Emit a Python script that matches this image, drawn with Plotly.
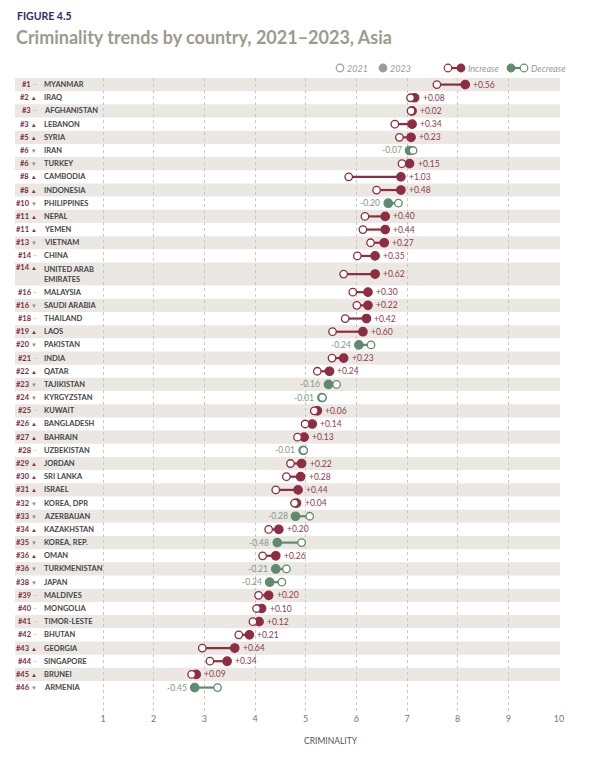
import plotly.graph_objects as go

# ---------------- data ----------------
countries = [
    "MYANMAR", "IRAQ", "AFGHANISTAN", "LEBANON", "SYRIA", "IRAN", "TURKEY",
    "CAMBODIA", "INDONESIA", "PHILIPPINES", "NEPAL", "YEMEN", "VIETNAM", "CHINA",
    "UNITED ARAB<br>EMIRATES", "MALAYSIA", "SAUDI ARABIA", "THAILAND", "LAOS",
    "PAKISTAN", "INDIA", "QATAR", "TAJIKISTAN", "KYRGYZSTAN", "KUWAIT",
    "BANGLADESH", "BAHRAIN", "UZBEKISTAN", "JORDAN", "SRI LANKA", "ISRAEL",
    "KOREA, DPR", "AZERBAIJAN", "KAZAKHSTAN", "KOREA, REP.", "OMAN",
    "TURKMENISTAN", "JAPAN", "MALDIVES", "MONGOLIA", "TIMOR-LESTE", "BHUTAN",
    "GEORGIA", "SINGAPORE", "BRUNEI", "ARMENIA",
]
ranks = [1, 2, 3, 3, 5, 6, 6, 8, 8, 10, 11, 11, 13, 14, 14, 16, 16, 18, 19, 20,
         21, 22, 23, 24, 25, 26, 27, 28, 29, 30, 31, 32, 33, 34, 35, 36, 36, 38,
         39, 40, 41, 42, 43, 44, 45, 46]
rank_moves = ["=", "up", "=", "up", "up", "down", "down", "up", "up", "down",
              "up", "up", "down", "=", "up", "=", "down", "=", "up", "down",
              "=", "up", "down", "down", "=", "up", "up", "=", "up", "up",
              "up", "down", "down", "up", "down", "up", "down", "down", "=", "=",
              "=", "=", "up", "=", "up", "down"]
crim_2021 = [7.59, 7.07, 7.08, 6.76, 6.85, 7.12, 6.90, 5.85, 6.40, 6.83,
             6.17, 6.13, 6.28, 6.02, 5.75, 5.93, 6.01, 5.78, 5.53, 6.29,
             5.52, 5.23, 5.61, 5.33, 5.17, 4.99, 4.84, 4.96, 4.70, 4.62,
             4.41, 4.78, 5.08, 4.27, 4.92, 4.15, 4.62, 4.53, 4.07, 4.03,
             3.96, 3.68, 2.96, 3.11, 2.75, 3.26]
crim_2023 = [8.15, 7.15, 7.10, 7.10, 7.08, 7.05, 7.05, 6.88, 6.88, 6.63,
             6.57, 6.57, 6.55, 6.37, 6.37, 6.23, 6.23, 6.20, 6.13, 6.05,
             5.75, 5.47, 5.45, 5.32, 5.23, 5.13, 4.97, 4.95, 4.92, 4.90,
             4.85, 4.82, 4.80, 4.47, 4.44, 4.41, 4.41, 4.29, 4.27, 4.13,
             4.08, 3.89, 3.60, 3.45, 2.84, 2.81]
x_ticks = [1, 2, 3, 4, 5, 6, 7, 8, 9, 10]

# ---------------- style / layout ----------------
PAGE_W, PAGE_H = 600, 778
OFF = 8                      # default body margin of the html page
W, H = PAGE_W - 2 * OFF, PAGE_H - 2 * OFF
# plot area in page pixels: x 15..560, y 78..712
ML, MT = 15 - OFF, 78 - OFF
MR = W - (560 - OFF)
MB = H - (712 - OFF)
PW, PH = W - ML - MR, H - MT - MB
PX_PER_UNIT = 50.67
PX_PER_ROW = 13.18
X0 = 1 - (103 - 15) / PX_PER_UNIT
X1 = 10 + (560 - 559) / PX_PER_UNIT
Y_MAX = PH / PX_PER_ROW

INC = "#8e2c41"
DEC = "#5e8b6c"
INC_TXT = "#8e3a4c"
DEC_TXT = "#7e9a88"
BAND = "#ebe8e3"
FONT = "Lato"


def px_x(px):  # page pixel -> paper
    return (px - OFF - ML) / PW


def px_y(py):
    return (H - MB - (py - OFF)) / PH


row_h = [1.75 if "<br>" in c else 1.0 for c in countries]
tops, acc = [], 0.0
for h in row_h:
    tops.append(acc)
    acc += h
centers = [t + h / 2 for t, h in zip(tops, row_h)]

fig = go.Figure()

# connecting segments
for sign, col in ((1, INC), (-1, DEC)):
    xs, ys = [], []
    for a, b, y in zip(crim_2021, crim_2023, centers):
        if (b - a) * sign > 0:
            xs += [a, b, None]
            ys += [y, y, None]
    fig.add_trace(go.Scatter(x=xs, y=ys, mode="lines",
                             line=dict(color=col, width=2.2),
                             hoverinfo="skip", showlegend=False))

cols = [INC if b >= a else DEC for a, b in zip(crim_2021, crim_2023)]
fig.add_trace(go.Scatter(x=crim_2023, y=centers, mode="markers",
                         marker=dict(size=8.5, color=cols,
                                     line=dict(color=cols, width=1.2)),
                         showlegend=False, hoverinfo="x"))
fig.add_trace(go.Scatter(x=crim_2021, y=centers, mode="markers",
                         marker=dict(size=7.5, color="white",
                                     line=dict(color=cols, width=1.3)),
                         showlegend=False, hoverinfo="x"))

shapes = []
annotations = []
for i, (t, h) in enumerate(zip(tops, row_h)):
    if i % 2 == 0:
        shapes.append(dict(type="rect", xref="paper", x0=0, x1=1, yref="y",
                           y0=t, y1=t + h, fillcolor=BAND, line=dict(width=0),
                           layer="below"))

arrow_map = {
    "up": "<span style='color:%s;font-size:6px'>▲</span>" % INC,
    "down": "<span style='color:#8a8f98;font-size:6px'>▼</span>",
    "=": "<span style='color:#b5b5b5'>–</span>",
}
for c, r, mv, a, b, y, h in zip(countries, ranks, rank_moves, crim_2021,
                                crim_2023, centers, row_h):
    two = "<br>" in c
    yshift = 6.3 if two else 0
    annotations.append(dict(
        xref="paper", x=px_x(39), yref="y", y=y, yshift=yshift,
        xanchor="right", yanchor="middle", showarrow=False,
        text="<b>#%d</b> %s" % (r, arrow_map[mv]),
        font=dict(family=FONT, size=7.5, color="#7b2d3f")))
    annotations.append(dict(
        xref="paper", x=px_x(42), yref="y", y=y, xanchor="left",
        yanchor="middle", align="left", showarrow=False,
        text="<b>%s</b>" % c,
        font=dict(family=FONT, size=7.5, color="#454545")))
    d = round(b - a, 2)
    lab = "%+.2f" % d
    if d >= 0:
        annotations.append(dict(
            xref="x", x=max(a, b), yref="y", y=y, xanchor="left",
            yanchor="middle", xshift=6, showarrow=False, text=lab,
            font=dict(family=FONT, size=8.5, color=INC_TXT)))
    else:
        annotations.append(dict(
            xref="x", x=min(a, b), yref="y", y=y, xanchor="right",
            yanchor="middle", xshift=-6, showarrow=False, text=lab,
            font=dict(family=FONT, size=8.5, color=DEC_TXT)))

# header
annotations.append(dict(xref="paper", yref="paper", x=px_x(15), y=px_y(16),
                        xanchor="left", yanchor="middle", showarrow=False,
                        text="<b>FIGURE 4.5</b>",
                        font=dict(family=FONT, size=10.5, color="#2c2f6b")))
annotations.append(dict(xref="paper", yref="paper", x=px_x(14), y=px_y(37),
                        xanchor="left", yanchor="middle", showarrow=False,
                        text="<b>Criminality trends by country, 2021–2023, Asia</b>",
                        font=dict(family=FONT, size=18, color="#9d9b8b")))

# legend
LY = 68


def circ(px, filled, col):
    shapes.append(dict(type="circle", xref="paper", yref="paper",
                       xsizemode="pixel", ysizemode="pixel",
                       xanchor=px_x(px), yanchor=px_y(LY),
                       x0=-3.8, x1=3.8, y0=-3.8, y1=3.8,
                       fillcolor=col if filled else "white",
                       line=dict(color=col, width=1.2)))


def seg(p0, p1, col):
    shapes.append(dict(type="line", xref="paper", yref="paper",
                       x0=px_x(p0), x1=px_x(p1), y0=px_y(LY), y1=px_y(LY),
                       line=dict(color=col, width=2.2)))


def ltext(px, s):
    annotations.append(dict(xref="paper", yref="paper", x=px_x(px), y=px_y(LY),
                            xanchor="left", yanchor="middle", showarrow=False,
                            text="<i>%s</i>" % s,
                            font=dict(family=FONT, size=9, color="#9a9a9a")))


circ(340, False, "#9a9a9a")
ltext(345, "2021")
circ(383, True, "#9a9a9a")
ltext(388, "2023")
seg(448, 461, INC)
circ(448, False, INC)
circ(461, True, INC)
ltext(466, "Increase")
seg(511, 524, DEC)
circ(511, True, DEC)
circ(524, False, DEC)
ltext(529, "Decrease")

# axis title
annotations.append(dict(xref="x", yref="paper", x=5.5, y=px_y(741),
                        xanchor="center", yanchor="middle", showarrow=False,
                        text="CRIMINALITY",
                        font=dict(family=FONT, size=8.5, color="#555555")))

fig.update_layout(
    width=W, height=H,
    margin=dict(l=ML, r=MR, t=MT, b=MB, pad=0),
    paper_bgcolor="white", plot_bgcolor="white",
    showlegend=False,
    shapes=shapes, annotations=annotations,
    xaxis=dict(range=[X0, X1], tickvals=x_ticks, ticktext=[str(v) for v in x_ticks],
               showgrid=True, gridcolor="#c9c9c9", griddash="dot", gridwidth=1,
               zeroline=False, showline=False, ticks="",
               tickfont=dict(family=FONT, size=9, color="#777777"),
               fixedrange=True),
    yaxis=dict(range=[Y_MAX, 0], showgrid=False, zeroline=False,
               showticklabels=False, showline=False, ticks="",
               fixedrange=True),
    font=dict(family=FONT),
)

fig.write_html("out.html")
